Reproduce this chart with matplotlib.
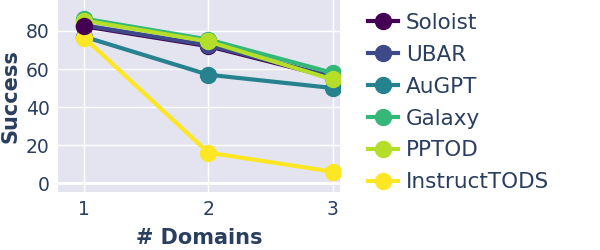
import numpy as np
import matplotlib.pyplot as plt

domains = [1, 2, 3]
soloist = [82.5, 72, 55.5]
ubar = [83, 72.5, 56]
augpt = [77, 57, 50]
galaxy = [86.5, 75.5, 58]
pptod = [85.5, 74.5, 54.5]
instructtods = [76.5, 16, 6]

names = ["Soloist", "UBAR", "AuGPT", "Galaxy", "PPTOD", "InstructTODS"]
series = [soloist, ubar, augpt, galaxy, pptod, instructtods]
colors = ["#440154", "#3e4989", "#26828e", "#35b779", "#b5de2b", "#fde725"]

txt = "#2a3f5f"
plt.rcParams['font.family'] = ['DejaVu Sans']

fig = plt.figure(figsize=(6, 2.5), dpi=100)
ax = fig.add_axes([58/600, 1-192/250, (340-58)/600, 192/250])
ax.set_facecolor("#E4E4F1")

for i, (name, vals, c) in enumerate(zip(names, series, colors)):
    ax.plot(domains, vals, color=c, lw=3, marker='o', ms=11.5, label=name,
            zorder=3 + i)
# first Soloist marker sits on top in the reference
ax.plot(domains[0], soloist[0], 'o', color=colors[0], ms=11.5, zorder=20)

ax.set_xlim(0.79, 3.06)
ax.set_ylim(-4.7, 96.3)
ax.set_xticks(domains)
ax.set_yticks([0, 20, 40, 60, 80])
ax.grid(True, color='white', lw=1)
ax.axhline(0, color='white', lw=2, zorder=1)
ax.set_axisbelow(True)
for s in ax.spines.values():
    s.set_visible(False)
ax.tick_params(length=0, labelsize=13.5, colors=txt, pad=6)
ax.set_xlabel("# Domains", fontsize=15, fontweight='bold', color=txt, labelpad=6)
ax.set_ylabel("Success", fontsize=15, fontweight='bold', color=txt, labelpad=4)

h, l = ax.get_legend_handles_labels()
leg = fig.legend(h, l, loc='upper left', bbox_to_anchor=(368/600, 1 - 13/250),
                 frameon=False, fontsize=15.5, handlelength=1.4, handletextpad=0.35,
                 labelspacing=0.55, borderaxespad=0, borderpad=0)
for t in leg.get_texts():
    t.set_color(txt)

fig.savefig("out.png", dpi=100)
